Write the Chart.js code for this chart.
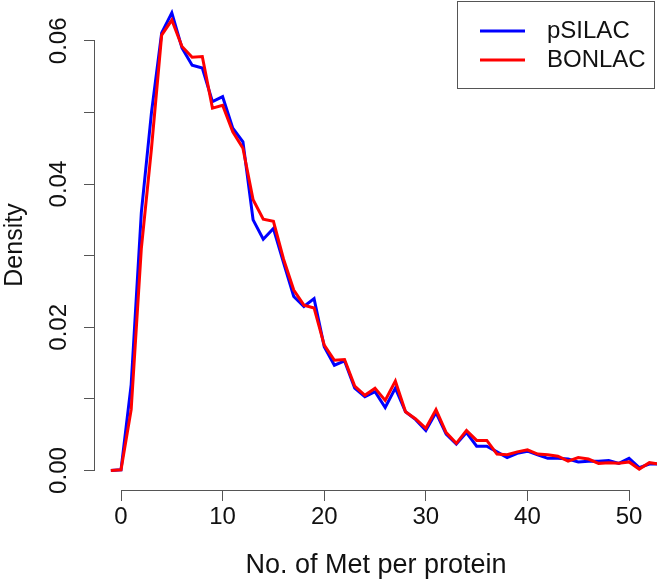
<!DOCTYPE html>
<html>
<head>
<meta charset="utf-8">
<script src="https://cdn.jsdelivr.net/npm/chart.js@4/dist/chart.umd.min.js"></script>
<style>
  html, body { margin: 0; padding: 0; background: #fff; }
  #density-chart { display: block; }
</style>
</head>
<body>
<canvas id="density-chart" width="657" height="586"></canvas>
<script>
// Number of Met residues per protein (x values of the density curves)
const metCounts = [-1, 0, 1, 2, 3, 4, 5, 6, 7, 8, 9, 10, 11, 12, 13, 14, 15, 16, 17, 18, 19,
  20, 21, 22, 23, 24, 25, 26, 27, 28, 29, 30, 31, 32, 33, 34, 35, 36, 37, 38, 39,
  40, 41, 42, 43, 44, 45, 46, 47, 48, 49, 50, 51, 52, 53];

const pSILAC = [0, 0.0001, 0.012, 0.036, 0.050, 0.0611, 0.0639, 0.0590, 0.0566, 0.0562, 0.0515,
  0.0522, 0.0478, 0.0459, 0.0350, 0.0323, 0.0338, 0.0290, 0.0243, 0.0229, 0.0240,
  0.0173, 0.0147, 0.0153, 0.0115, 0.0103, 0.0110, 0.0088, 0.0115, 0.0082, 0.0071,
  0.0056, 0.0081, 0.0051, 0.0037, 0.0053, 0.0034, 0.0034, 0.0026, 0.0018, 0.0024,
  0.0027, 0.0022, 0.0017, 0.0017, 0.0016, 0.0012, 0.0013, 0.0013, 0.0014, 0.0010,
  0.0017, 0.0004, 0.0009, 0.0009];

const BONLAC = [0, 0.0001, 0.0085, 0.031, 0.045, 0.0608, 0.0629, 0.0592, 0.0577, 0.0578, 0.0506,
  0.0510, 0.0473, 0.0450, 0.0378, 0.0351, 0.0348, 0.0295, 0.0252, 0.0231, 0.0227,
  0.0175, 0.0154, 0.0155, 0.0118, 0.0105, 0.0115, 0.0098, 0.0125, 0.0082, 0.0072,
  0.0059, 0.0085, 0.0053, 0.0038, 0.0056, 0.0042, 0.0042, 0.0023, 0.0022, 0.0026,
  0.0029, 0.0023, 0.0022, 0.0020, 0.0013, 0.0018, 0.0016, 0.0010, 0.0011, 0.0010,
  0.0012, 0.0002, 0.0011, 0.0009];

// Axis ticks
const xTicks = [0, 10, 20, 30, 40, 50];
const yTicks = [0, 0.01, 0.02, 0.03, 0.04, 0.05, 0.06];
const yTickLabels = ['0.00', '', '0.02', '', '0.04', '', '0.06'];

const FONT = '"Liberation Sans", Arial, sans-serif';
const AXIS_COLOR = '#555';
const TEXT_COLOR = '#111';

/**
 * R-style axis lines that only span the tick range
 */
const rAxes = {
  id: 'rAxes',
  afterDraw(chart) {
    const { ctx, scales: { x, y } } = chart;
    ctx.save();
    ctx.strokeStyle = AXIS_COLOR;
    ctx.lineWidth = 1;
    ctx.beginPath();
    const by = Math.round(y.bottom) + 0.5;
    ctx.moveTo(x.getPixelForValue(xTicks[0]), by);
    ctx.lineTo(x.getPixelForValue(xTicks[xTicks.length - 1]), by);
    const lx = Math.round(x.left) - 0.5;
    ctx.moveTo(lx, y.getPixelForValue(yTicks[0]));
    ctx.lineTo(lx, y.getPixelForValue(yTicks[yTicks.length - 1]));
    ctx.stroke();

    // rotated y tick labels
    ctx.fillStyle = TEXT_COLOR;
    ctx.font = `24px ${FONT}`;
    ctx.textAlign = 'center';
    ctx.textBaseline = 'middle';
    yTicks.forEach((v, i) => {
      if (!yTickLabels[i]) return;
      ctx.save();
      ctx.translate(59, y.getPixelForValue(v));
      ctx.rotate(-Math.PI / 2);
      ctx.fillText(yTickLabels[i], 0, 0);
      ctx.restore();
    });
    ctx.restore();
  }
};

/**
 * Boxed legend in the top right corner
 */
const boxLegend = {
  id: 'boxLegend',
  afterDraw(chart) {
    const { ctx } = chart;
    const order = [1, 0]; // pSILAC first, then BONLAC
    ctx.save();
    ctx.strokeStyle = AXIS_COLOR;
    ctx.lineWidth = 1;
    ctx.strokeRect(457.5, 1.5, 197, 87);
    ctx.font = `24px ${FONT}`;
    ctx.textBaseline = 'middle';
    ctx.textAlign = 'left';
    order.forEach((di, row) => {
      const ds = chart.data.datasets[di];
      const ly = 31 + row * 29;
      ctx.strokeStyle = ds.borderColor;
      ctx.lineWidth = 3;
      ctx.beginPath();
      ctx.moveTo(480, ly);
      ctx.lineTo(525, ly);
      ctx.stroke();
      ctx.fillStyle = TEXT_COLOR;
      ctx.fillText(ds.label, 547, ly);
    });
    ctx.restore();
  }
};

const canvas = document.getElementById('density-chart');

new Chart(canvas, {
  type: 'line',
  data: {
    datasets: [{
      label: 'BONLAC',
      data: metCounts.map((m, i) => ({ x: m, y: BONLAC[i] })),
      borderColor: '#ff0000',
      borderWidth: 3,
      pointRadius: 0,
      tension: 0
    }, {
      label: 'pSILAC',
      data: metCounts.map((m, i) => ({ x: m, y: pSILAC[i] })),
      borderColor: '#0000ff',
      borderWidth: 3,
      pointRadius: 0,
      tension: 0
    }]
  },
  options: {
    responsive: false,
    animation: false,
    devicePixelRatio: 1,
    layout: { padding: 0 },
    plugins: {
      legend: { display: false },
      tooltip: { enabled: false }
    },
    scales: {
      x: {
        type: 'linear',
        min: -2.56,
        max: 52.75,
        afterBuildTicks: (scale) => { scale.ticks = xTicks.map(v => ({ value: v })); },
        afterFit: (scale) => {
          scale.height = 96;
          scale.paddingLeft = 0; scale.paddingRight = 0;
        },
        border: { display: false },
        grid: { drawOnChartArea: false, drawTicks: true, tickLength: 11, color: AXIS_COLOR },
        ticks: {
          color: TEXT_COLOR,
          font: { family: FONT, size: 24 },
          padding: 2,
          maxRotation: 0,
          callback: (v) => String(v)
        },
        title: {
          display: true,
          text: 'No. of Met per protein',
          color: TEXT_COLOR,
          font: { family: FONT, size: 27 },
          padding: { top: 4, bottom: 4 }
        }
      },
      y: {
        type: 'linear',
        min: -0.00272,
        max: 0.0657,
        afterBuildTicks: (scale) => { scale.ticks = yTicks.map(v => ({ value: v })); },
        afterFit: (scale) => {
          scale.width = 95;
          scale.paddingTop = 0; scale.paddingBottom = 0;
        },
        border: { display: false },
        grid: { drawOnChartArea: false, drawTicks: true, tickLength: 11, color: AXIS_COLOR },
        ticks: { display: false },
        title: {
          display: true,
          text: 'Density',
          color: TEXT_COLOR,
          font: { family: FONT, size: 25 },
          padding: 0
        }
      }
    }
  },
  plugins: [rAxes, boxLegend]
});
</script>
</body>
</html>
